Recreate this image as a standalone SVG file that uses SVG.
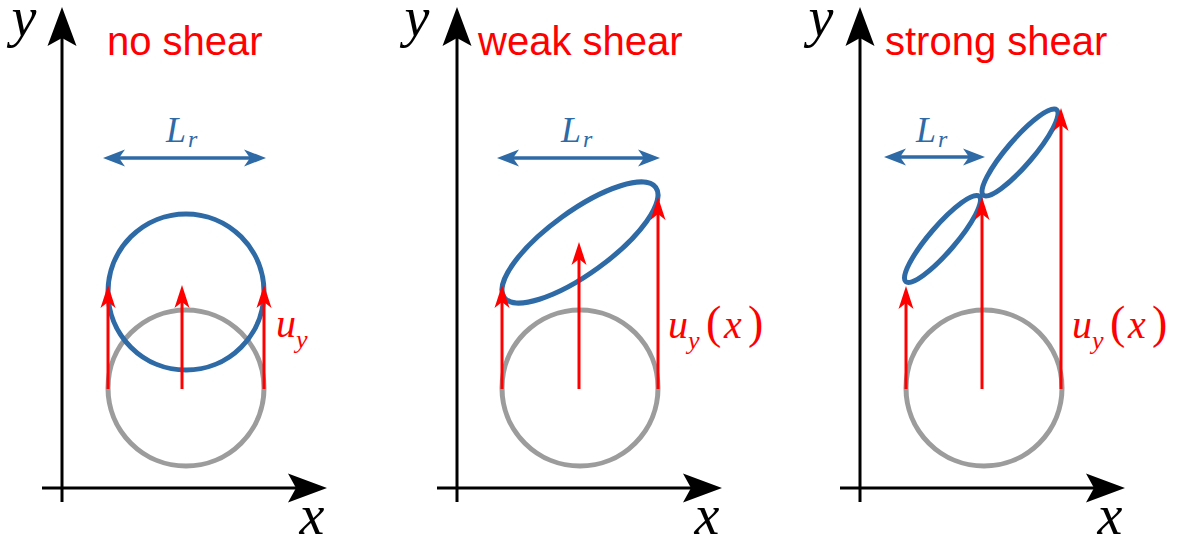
<svg xmlns="http://www.w3.org/2000/svg" width="1190" height="545" viewBox="0 0 1190 545">
<style>
.axis{stroke:#000;stroke-width:3;fill:none;marker-end:url(#axHead)}
.disp{stroke:#ff0000;stroke-width:3;fill:none;marker-end:url(#redHead)}
.len{stroke:#2e6aa6;stroke-width:3.5;fill:none;marker-start:url(#blueHead);marker-end:url(#blueHead)}
.orig{stroke:#9c9c9c;stroke-width:5;fill:none}
.def{stroke:#2e6aa6;stroke-width:5;fill:none}
.title{font-family:"Liberation Sans",Arial,sans-serif;font-size:40px;fill:#ff0000}
.ax{font-family:"Liberation Serif","DejaVu Serif",serif;font-style:italic;font-size:56px;fill:#000;text-anchor:middle}
.m{font-family:"Liberation Serif","DejaVu Serif",serif;font-style:italic;font-size:40px;fill:#ff0000}
.sub{font-size:26px}
.par{font-style:normal;font-size:46px}
.lr{font-family:"Liberation Serif","DejaVu Serif",serif;font-style:italic;font-size:36px;fill:#2e6aa6}
.lrs{font-size:24px}
</style>
<defs>
<marker id="axHead" markerUnits="userSpaceOnUse" orient="auto" overflow="visible" markerWidth="1" markerHeight="1" refX="0" refY="0">
<path d="M31,0 L-8,-14.5 L0,0 L-8,14.5 Z" fill="#000"/>
</marker>
<marker id="redHead" markerUnits="userSpaceOnUse" orient="auto" overflow="visible" markerWidth="1" markerHeight="1" refX="0" refY="0">
<path d="M17,0 L-6,-7.5 L0,0 L-6,7.5 Z" fill="#ff0000"/>
</marker>
<marker id="blueHead" markerUnits="userSpaceOnUse" orient="auto-start-reverse" overflow="visible" markerWidth="1" markerHeight="1" refX="0" refY="0">
<path d="M16,0 L-6,-8.5 L0,0 L-6,8.5 Z" fill="#2e6aa6"/>
</marker>
</defs>

<!-- Panel 1: no shear -->
<g id="panel1">
<text class="title" x="107" y="55">no shear</text>
<g id="p1-axes">
<line class="axis" x1="62" y1="502" x2="62" y2="38"/>
<line class="axis" x1="42" y1="488" x2="296" y2="488"/>
<text class="ax" x="24" y="36">y</text>
<text class="ax" x="312" y="534">x</text>
</g>
<g id="p1-length">
<line class="len" x1="119" y1="158" x2="250" y2="158"/>
<text class="lr" x="166" y="142">L<tspan class="lrs" x="188" dy="5">r</tspan></text>
</g>
<circle id="p1-original" class="orig" cx="186" cy="388" r="78"/>
<circle id="p1-deformed" class="def" cx="186" cy="292" r="78"/>
<g id="p1-arrows">
<line class="disp" x1="108" y1="389" x2="108" y2="302"/>
<line class="disp" x1="182" y1="389" x2="182" y2="302"/>
<line class="disp" x1="264" y1="389" x2="264" y2="302"/>
<text class="m" x="276" y="337">u<tspan class="sub" x="296" dy="11">y</tspan></text>
</g>
</g>

<!-- Panel 2: weak shear -->
<g id="panel2">
<text class="title" x="478" y="55">weak shear</text>
<g id="p2-axes">
<line class="axis" x1="457" y1="502" x2="457" y2="38"/>
<line class="axis" x1="437" y1="488" x2="691" y2="488"/>
<text class="ax" x="417" y="36">y</text>
<text class="ax" x="707" y="534">x</text>
</g>
<g id="p2-length">
<line class="len" x1="513" y1="158" x2="644" y2="158"/>
<text class="lr" x="561" y="142">L<tspan class="lrs" x="583" dy="5">r</tspan></text>
</g>
<circle id="p2-original" class="orig" cx="580" cy="388" r="78"/>
<ellipse id="p2-deformed" class="def" cx="580" cy="242.5" rx="93.65" ry="31.23" transform="rotate(-35.95 580 242.5)"/>
<g id="p2-arrows">
<line class="disp" x1="502" y1="389" x2="502" y2="302"/>
<line class="disp" x1="579" y1="389" x2="579" y2="259"/>
<line class="disp" x1="658" y1="389" x2="658" y2="214"/>
<text class="m" x="668" y="338">u<tspan class="sub" x="688" dy="11">y</tspan><tspan class="par" x="706" dy="-11">(</tspan><tspan x="724">x</tspan><tspan class="par" x="748">)</tspan></text>
</g>
</g>

<!-- Panel 3: strong shear -->
<g id="panel3">
<text class="title" x="885" y="55">strong shear</text>
<g id="p3-axes">
<line class="axis" x1="860" y1="502" x2="860" y2="38"/>
<line class="axis" x1="840" y1="488" x2="1094" y2="488"/>
<text class="ax" x="821" y="36">y</text>
<text class="ax" x="1110" y="534">x</text>
</g>
<g id="p3-length">
<line class="len" x1="900" y1="157" x2="969" y2="157"/>
<text class="lr" x="916" y="142">L<tspan class="lrs" x="938" dy="5">r</tspan></text>
</g>
<circle id="p3-original" class="orig" cx="984" cy="388" r="78"/>
<ellipse id="p3-deformed-a" class="def" cx="942.5" cy="239" rx="56.3" ry="13.03" transform="rotate(-49.3 942.5 239)"/>
<ellipse id="p3-deformed-b" class="def" cx="1020" cy="152.5" rx="56.3" ry="13.03" transform="rotate(-49.3 1020 152.5)"/>
<g id="p3-arrows">
<line class="disp" x1="906" y1="389" x2="906" y2="303"/>
<line class="disp" x1="982" y1="389" x2="982" y2="214"/>
<line class="disp" x1="1061" y1="389" x2="1061" y2="125"/>
<text class="m" x="1072" y="338">u<tspan class="sub" x="1092" dy="11">y</tspan><tspan class="par" x="1110" dy="-11">(</tspan><tspan x="1128">x</tspan><tspan class="par" x="1152">)</tspan></text>
</g>
</g>
</svg>
